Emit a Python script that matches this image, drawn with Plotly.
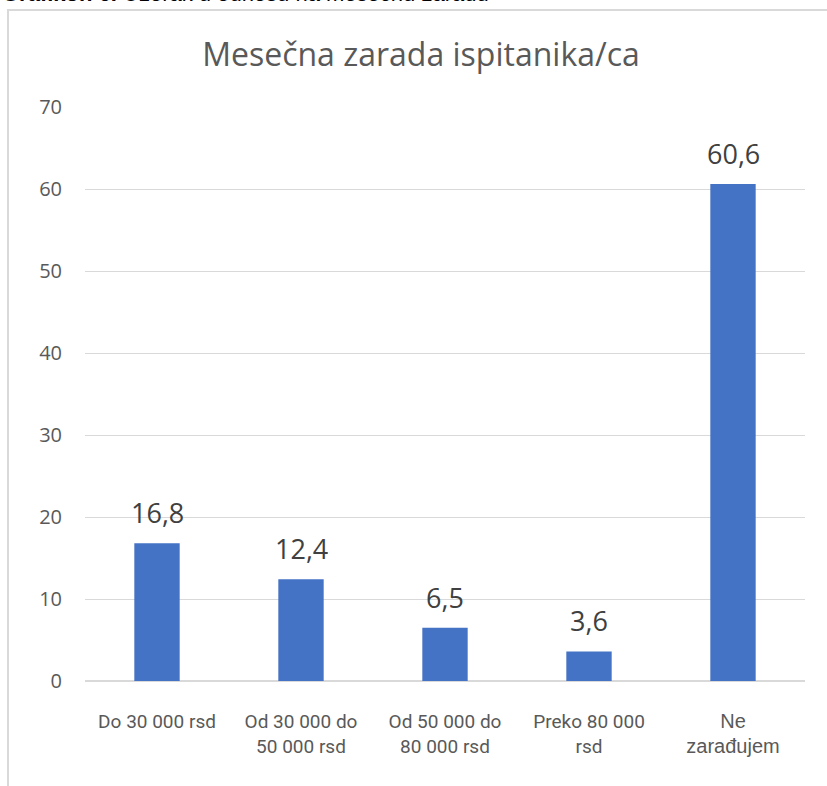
import plotly.graph_objects as go

categories = ["Do 30 000 rsd", "Od 30 000 do 50 000 rsd", "Od 50 000 do 80 000 rsd", "Preko 80 000 rsd", "Ne zarađujem"]
tick_labels = ["Do 30 000 rsd", "Od 30 000 do<br>50 000 rsd", "Od 50 000 do<br>80 000 rsd",
               "Preko 80 000<br>rsd",
               "<span style='font-family:Liberation Sans;font-size:20px'>Ne<br>zarađujem</span>"]
values = [16.8, 12.4, 6.5, 3.6, 60.6]
y_ticks = [0, 10, 20, 30, 40, 50, 60, 70]

W, H = 827, 786
L, R, T, B = 85, 22, 107, 105
pw, ph = W - L - R, H - T - B

def px_x(p):
    return (p - L) / pw

def px_y(p):
    return (H - B - p) / ph

fig = go.Figure()
fig.add_trace(go.Bar(x=categories, y=values, marker=dict(color="#4472C4", line=dict(width=0)),
                     width=0.315, hoverinfo="skip"))

for c, v in zip(categories, values):
    fig.add_annotation(x=c, y=v, text=f"{v:.1f}".replace(".", ","), showarrow=False,
                       yanchor="bottom", yshift=10,
                       font=dict(family="Open Sans", size=27, color="#404040"))

fig.add_annotation(xref="paper", yref="paper", x=px_x(0), y=px_y(8), xanchor="left", yanchor="bottom",
                   text="<b>Grafikon 6.</b> Uzorak u odnosu na mesečnu zaradu", showarrow=False,
                   font=dict(family="Liberation Sans", size=22, color="#000000"))

fig.add_shape(type="rect", xref="paper", yref="paper", x0=px_x(8), x1=px_x(840), y0=px_y(800), y1=px_y(10),
              line=dict(color="#d9d9d9", width=2), fillcolor="rgba(0,0,0,0)", layer="below")

fig.update_layout(
    width=W, height=H,
    margin=dict(l=L, r=R, t=T, b=B),
    paper_bgcolor="white", plot_bgcolor="white",
    showlegend=False,
    title=dict(text="Mesečna zarada ispitanika/ca", x=421 / W, xanchor="center",
               y=1 - 55 / H, yanchor="middle",
               font=dict(family="Open Sans", size=32, color="#595959")),
    xaxis=dict(tickmode="array", tickvals=categories, ticktext=tick_labels,
               showgrid=False, showline=False, zeroline=False, ticks="",
               ticklabelstandoff=27,
               tickfont=dict(family="Roboto", size=19, color="#595959")),
    yaxis=dict(range=[0, 70], tickvals=y_ticks, showgrid=True, gridcolor="#d9d9d9", gridwidth=1.3,
               zeroline=True, zerolinecolor="#d9d9d9", zerolinewidth=1.5, showline=False, ticks="",
               ticklabelstandoff=22,
               tickfont=dict(family="Open Sans", size=20, color="#595959")),
)

fig.write_html("out.html", config={"displayModeBar": False},
               post_script="document.body.style.margin='0px';")
